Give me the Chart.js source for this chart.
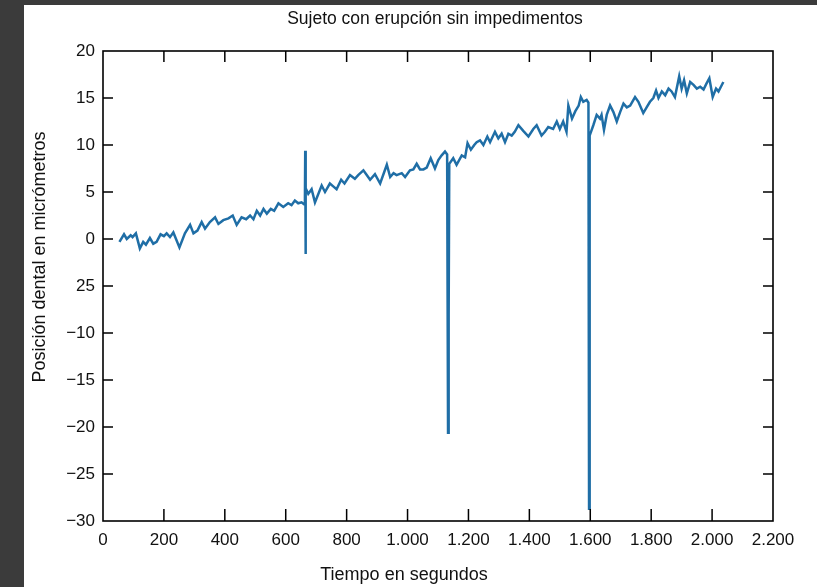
<!DOCTYPE html>
<html>
<head>
<meta charset="utf-8">
<script src="https://cdn.jsdelivr.net/npm/chart.js@4"></script>
<style>
  body { margin: 0; background: #fff; }
  canvas { display: block; }
</style>
</head>
<body>
<canvas id="canvas" width="817" height="587"></canvas>
<script>
// tiempo (s) y posicion (um)
const tiempo = [
  54, 69, 78, 91, 97, 108, 121, 132, 141, 154, 165, 176, 189, 200, 209, 220, 231, 251,
  269, 286, 297, 310, 324, 335, 351, 368, 379, 395, 412, 426, 439, 455, 470, 483, 494,
  505, 516, 527, 538, 551, 562, 576, 592, 608, 619, 630, 641, 652, 660, 663, 664, 665,
  666, 674, 685, 696, 718, 729, 745, 756, 767, 782, 793, 811, 827, 838, 855, 866, 877,
  893, 910, 932, 943, 954, 964, 981, 992, 1008, 1019, 1030, 1041, 1052, 1063, 1076,
  1090, 1101, 1112, 1123, 1130, 1133, 1135, 1137, 1139, 1150, 1161, 1178, 1189, 1197,
  1208, 1219, 1227, 1238, 1249, 1262, 1271, 1287, 1298, 1309, 1320, 1331, 1342, 1352,
  1364, 1380, 1397, 1413, 1424, 1440, 1451, 1462, 1478, 1490, 1500, 1511, 1522, 1528,
  1540, 1551, 1562, 1569, 1577, 1588, 1594, 1596, 1598, 1610, 1621, 1632, 1637, 1645,
  1654, 1665, 1676, 1687, 1698, 1709, 1720, 1731, 1747, 1758, 1774, 1785, 1796, 1807,
  1816, 1824, 1835, 1846, 1857, 1867, 1878, 1892, 1900, 1908, 1917, 1928, 1939, 1950,
  1961, 1972, 1981, 1991, 2002, 2013, 2021, 2029, 2037
];
const posicion = [
  -0.3, 0.5, 0.0, 0.4, 0.2, 0.6, -1.0, -0.3, -0.6, 0.1, -0.5, -0.3, 0.5, 0.3, 0.6, 0.2, 0.7, -0.9,
  0.6, 1.5, 0.6, 0.9, 1.8, 1.1, 1.8, 2.3, 1.6, 2.0, 2.2, 2.5, 1.5, 2.3, 2.1, 2.5, 2.1,
  3.0, 2.5, 3.2, 2.7, 3.2, 3.0, 3.8, 3.4, 3.8, 3.6, 4.1, 3.8, 3.9, 3.7, 4.2, 9.4, -1.6,
  5.4, 4.8, 5.3, 3.9, 5.7, 5.0, 5.9, 5.6, 5.3, 6.3, 5.9, 6.8, 6.4, 6.8, 7.3, 6.8, 6.3,
  6.9, 5.9, 7.9, 6.6, 7.0, 6.8, 7.0, 6.6, 7.3, 7.4, 8.0, 7.4, 7.4, 7.6, 8.6,
  7.5, 8.4, 8.9, 9.3, 9.0, -20.6, -8.0, 8.0, 8.0, 8.6, 7.9, 8.9, 8.7, 10.2,
  9.5, 10.0, 10.3, 10.5, 10.0, 10.9, 10.3, 11.4, 10.7, 11.2, 10.3, 11.2, 11.0, 11.4,
  12.1, 11.5, 10.9, 11.7, 12.1, 11.0, 11.4, 11.9, 11.7, 12.5, 11.7, 12.5, 11.4, 14.2,
  12.8, 13.6, 14.2, 15.1, 14.6, 14.8, 14.5, -28.7, 11.0, 12.1, 13.2, 12.8, 13.2, 11.6,
  13.2, 14.2, 13.5, 12.5, 13.5, 14.4, 14.0, 14.2, 15.1, 14.6, 13.4, 14.0, 14.6, 15.0,
  15.8, 15.0, 15.7, 15.3, 16.0, 15.7, 15.1, 17.3, 16.0, 16.9, 15.5, 16.7, 16.4, 16.0,
  16.2, 15.9, 16.5, 17.1, 15.1, 16.0, 15.7, 16.2, 16.7
];

const xTicks = [0, 200, 400, 600, 800, 1000, 1200, 1400, 1600, 1800, 2000, 2200];
const xTickLabels = ['0', '200', '400', '600', '800', '1.000', '1.200', '1.400', '1.600', '1.800', '2.000', '2.200'];
const yTicks = [-30, -25, -20, -15, -10, -5, 0, 5, 10, 15, 20];
const yTickLabels = ['\u221230', '\u221225', '\u221220', '\u221215', '\u221210', '25', '0', '5', '10', '15', '20'];

const fuente = '"Liberation Sans", Arial, sans-serif';
const puntos = tiempo.map((t, i) => ({ x: t, y: posicion[i] }));

// fondo, marco con marcas hacia dentro y titulos
const marco = {
  id: 'marco',
  beforeDraw(chart) {
    const c = chart.ctx;
    c.save();
    c.fillStyle = '#ffffff';
    c.fillRect(0, 0, chart.width, chart.height);
    c.fillStyle = '#3b3b3b';
    c.fillRect(0, 0, 24, chart.height);
    c.fillRect(0, 0, chart.width, 5);
    c.restore();
  },
  afterDatasetsDraw(chart) {
    const c = chart.ctx;
    const a = chart.chartArea;
    const sx = chart.scales.x, sy = chart.scales.y;
    c.save();
    c.strokeStyle = '#000';
    c.lineWidth = 1.6;
    c.strokeRect(a.left, a.top, a.right - a.left, a.bottom - a.top);
    c.lineWidth = 1.5;
    c.beginPath();
    xTicks.forEach(v => {
      const px = sx.getPixelForValue(v);
      if (v > 0 && v < 2200) {
        c.moveTo(px, a.bottom); c.lineTo(px, a.bottom - 12);
        c.moveTo(px, a.top); c.lineTo(px, a.top + 11);
      }
    });
    yTicks.forEach(v => {
      const py = sy.getPixelForValue(v);
      if (v > -30 && v < 20) {
        c.moveTo(a.left, py); c.lineTo(a.left + 10, py);
        c.moveTo(a.right, py); c.lineTo(a.right - 10, py);
      }
    });
    c.stroke();
    c.fillStyle = '#111';
    c.textAlign = 'center';
    c.textBaseline = 'middle';
    c.font = '17.5px ' + fuente;
    c.fillText('Sujeto con erupción sin impedimentos', 435, 19);
    c.font = '18px ' + fuente;
    c.fillText('Tiempo en segundos', 404, 575);
    c.translate(40, 257);
    c.rotate(-Math.PI / 2);
    c.fillText('Posición dental en micrómetros', 0, 0);
    c.restore();
  }
};

const ctx = document.getElementById('canvas').getContext('2d');

const grafico = new Chart(ctx, {
  type: 'line',
  data: {
    datasets: [{
      data: puntos,
      borderColor: '#1f6ea6',
      borderWidth: 2.5,
      pointRadius: 0,
      tension: 0,
      fill: false
    }]
  },
  options: {
    responsive: false,
    animation: false,
    layout: { padding: { top: 51, right: 44, bottom: 0, left: 0 } },
    scales: {
      x: {
        type: 'linear',
        min: 0,
        max: 2200,
        afterBuildTicks: s => { s.ticks = xTicks.map(v => ({ value: v })); },
        afterFit: s => { s.height = 66; },
        grid: { display: false, drawTicks: false },
        border: { display: false },
        ticks: {
          padding: 9,
          color: '#111',
          font: { family: fuente, size: 17 },
          maxRotation: 0,
          autoSkip: false,
          callback: v => xTickLabels[xTicks.indexOf(v)]
        }
      },
      y: {
        min: -30,
        max: 20,
        afterBuildTicks: s => { s.ticks = yTicks.map(v => ({ value: v })); },
        afterFit: s => { s.width = 103; },
        grid: { display: false, drawTicks: false },
        border: { display: false },
        ticks: {
          padding: 8,
          color: '#111',
          font: { family: fuente, size: 17 },
          autoSkip: false,
          callback: v => yTickLabels[yTicks.indexOf(v)]
        }
      }
    },
    plugins: {
      legend: { display: false },
      tooltip: { enabled: false },
      title: { display: false }
    }
  },
  plugins: [marco]
});
</script>
</body>
</html>
